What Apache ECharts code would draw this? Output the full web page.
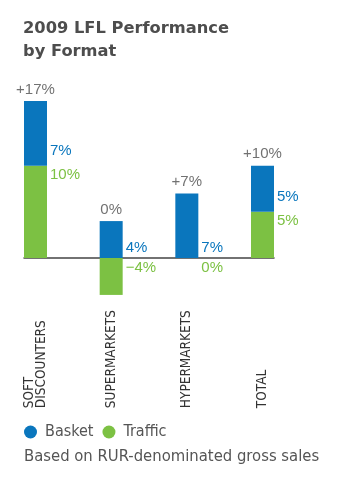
<!DOCTYPE html>
<html>
<head>
<meta charset="utf-8">
<script src="https://cdn.jsdelivr.net/npm/echarts@6/dist/echarts.min.js"></script>
<style>
  html, body { margin: 0; padding: 0; background: #fff; }
  #chart { width: 348px; height: 489px; }
</style>
</head>
<body>
<div id="chart"></div>
<script>
// Like-for-like sales growth by store format, split into basket and traffic
const categories = ['SOFT\nDISCOUNTERS', 'SUPERMARKETS', 'HYPERMARKETS', 'TOTAL'];
const basket = [7, 4, 7, 5];
const traffic = [10, -4, 0, 5];
const seriesNames = ['Basket', 'Traffic'];
const titleText = '2009 LFL Performance\nby Format';
const noteText = 'Based on RUR-denominated gross sales';

const BLUE = '#0a76bd';
const GREEN = '#7cc143';
const GREY = '#4d4d4d';

// total growth = basket + traffic; the total label sits on top of the positive stack
const totals = basket.map((b, i) => b + traffic[i]);
const stackTops = basket.map((b, i) => Math.max(0, b) + Math.max(0, traffic[i]));

const pct = v => (v < 0 ? '\u2212' : '') + Math.abs(v) + '%';
const signed = v => (v > 0 ? '+' : '') + pct(v);

const valueFont = { fontFamily: 'Liberation Sans', fontSize: 15 };
const condensed = 'DejaVu Sans Condensed';

// vertical layout shared by both grids so the zero lines coincide
const TOP = 73.4, BOTTOM = 184.85;

const chart = echarts.init(document.getElementById('chart'), null, { renderer: 'canvas' });

chart.setOption({
  animation: false,
  backgroundColor: '#fff',
  title: [
    {
      text: titleText,
      left: 23, top: 17, padding: 0,
      textStyle: { fontFamily: 'DejaVu Sans', fontWeight: 'bold', fontSize: 16.3, lineHeight: 23, color: GREY }
    },
    {
      text: noteText,
      left: 24, top: 447, padding: 0,
      textStyle: { fontFamily: condensed, fontWeight: 'normal', fontSize: 16.5, lineHeight: 20, color: '#555' }
    }
  ],
  legend: {
    data: seriesNames,
    left: 24, top: 422, padding: 0,
    icon: 'circle', itemWidth: 13, itemHeight: 13, itemGap: 9,
    textStyle: { fontFamily: condensed, fontSize: 16, lineHeight: 20, color: '#555', padding: [0, 0, 0, 3] }
  },
  grid: [
    // bars: one band per format, bar on the left of its band, labels on the right
    { left: -2.33, right: 47.67, top: TOP, bottom: BOTTOM, outerBoundsMode: 'none' },
    // zero baseline running from the first bar to the last
    { left: 24, right: 74, top: TOP, bottom: BOTTOM, outerBoundsMode: 'none' }
  ],
  xAxis: [
    {
      type: 'category', gridIndex: 0, data: categories,
      axisLine: { show: false, onZero: false },
      axisTick: { show: false },
      axisLabel: {
        interval: 0, rotate: 90, margin: 104, align: 'left', verticalAlign: 'middle',
        fontFamily: condensed, fontSize: 13.5, lineHeight: 12.5, color: '#333'
      }
    },
    {
      type: 'value', gridIndex: 1, min: 0, max: 1,
      axisLine: { show: true, onZero: true, lineStyle: { color: '#444', width: 1.5 } },
      axisTick: { show: false }, axisLabel: { show: false }, splitLine: { show: false }
    }
  ],
  yAxis: [
    { type: 'value', gridIndex: 0, min: -5, max: 20, show: false },
    { type: 'value', gridIndex: 1, min: -5, max: 20, show: false }
  ],
  series: [
    {
      name: 'Traffic', type: 'bar', stack: 'lfl', barWidth: 23,
      itemStyle: { color: GREEN },
      data: traffic,
      label: {
        show: true, position: ['100%', 0], align: 'left', verticalAlign: 'top', offset: [3, 2],
        color: GREEN, ...valueFont,
        formatter: p => pct(p.value)
      }
    },
    {
      name: 'Basket', type: 'bar', stack: 'lfl', barWidth: 23,
      itemStyle: { color: BLUE },
      data: basket.map((v, i) => ({
        value: v,
        // lift the label a little more when a traffic label sits right below it
        label: traffic[i] > 0 ? { offset: [3, -7] } : undefined
      })),
      label: {
        show: true, position: ['100%', '100%'], align: 'left', verticalAlign: 'bottom', offset: [3, -3],
        color: BLUE, ...valueFont,
        formatter: p => pct(p.value)
      }
    },
    {
      name: 'Total', type: 'scatter', silent: true,
      symbolSize: 0, itemStyle: { color: 'transparent' },
      data: stackTops.map((t, i) => [i, t, totals[i]]),
      encode: { x: 0, y: 1 },
      label: {
        show: true, position: 'top', distance: 4,
        color: GREY, ...valueFont,
        formatter: p => signed(p.value[2])
      }
    }
  ]
});
</script>
</body>
</html>
